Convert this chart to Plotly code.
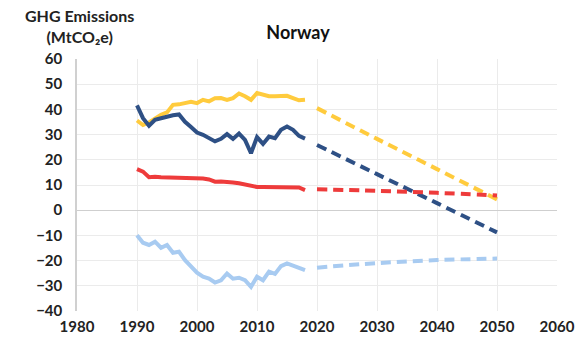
import plotly.graph_objects as go

years_hist = list(range(1990, 2019))
gross = [35.6, 33.8, 34.8, 36.4, 37.9, 38.8, 41.8, 42.0, 42.4, 43.0, 42.5, 43.8, 43.2, 44.4, 44.5,
         43.8, 44.5, 46.3, 45.2, 43.8, 46.5, 45.7, 45.2, 45.2, 45.2, 45.4, 44.5, 43.6, 43.8]
net = [41.6, 36.5, 33.5, 35.9, 36.5, 37.2, 37.7, 38.0, 35.1, 33.0, 30.8, 29.9, 28.4, 27.3, 28.3,
       30.2, 28.3, 30.4, 27.9, 22.6, 29.0, 26.3, 29.2, 28.6, 31.9, 33.2, 31.9, 29.5, 28.4]
other = [16.3, 15.3, 13.1, 13.3, 13.1, 13.0, 13.0, 12.9, 12.9, 13.0, 12.8, 12.6, 12.2, 11.3, 11.4,
         11.3, 11.0, 10.7, 10.2, 9.3, 9.2, 9.2, 9.2, 9.1, 9.1, 9.1, 9.1, 9.0, 8.0]
lulucf = [-9.9, -12.9, -13.8, -12.5, -14.9, -13.8, -16.9, -16.5, -19.8, -22.2, -24.8, -26.4, -27.1,
          -28.7, -27.8, -25.1, -27.2, -26.8, -27.8, -30.4, -26.4, -27.8, -24.4, -25.3, -22.2,
          -21.1, -21.8, -22.9, -23.8]

years_proj = [2020, 2030, 2040, 2050]
gross_proj = [40.5, 28.3, 16.3, 4.3]
net_proj = [25.9, 14.3, 2.8, -8.8]
other_proj = [8.3, 7.7, 6.9, 5.8]
lulucf_proj = [-22.8, -21.0, -19.8, -19.2]

colors = {"gross": "#FFCB3D", "net": "#2E5085", "other": "#EE3B3B", "lulucf": "#A8CBF1"}

fig = go.Figure()
for name, hist, proj in [("gross", gross, gross_proj), ("net", net, net_proj),
                         ("other", other, other_proj), ("lulucf", lulucf, lulucf_proj)]:
    fig.add_trace(go.Scatter(x=years_hist, y=hist, mode="lines",
                             line=dict(color=colors[name], width=4), showlegend=False))
    fig.add_trace(go.Scatter(x=years_proj, y=proj, mode="lines", line_shape="spline",
                             line=dict(color=colors[name], width=4, dash="10px,6px"),
                             showlegend=False))

tickfont = dict(family="Lato", size=15, color="#222222", weight="bold")
fig.update_layout(
    width=587, height=349,
    margin=dict(l=77, r=25, t=59, b=38),
    paper_bgcolor="white", plot_bgcolor="white",
    title=dict(text="Norway", x=298/587, xanchor="center", y=1-33/349, yanchor="middle",
               font=dict(family="Lato", size=18, color="#111111", weight="bold")),
    xaxis=dict(range=[1980, 2060], dtick=10, tick0=1980, showgrid=True, gridcolor="#EBEBEB",
               gridwidth=1, zeroline=False, showline=False, tickfont=tickfont, ticks="",
               ticklabelstandoff=5, mirror=False),
    yaxis=dict(range=[-40, 60], dtick=10, showgrid=True, gridcolor="#EBEBEB", gridwidth=1,
               zeroline=True, zerolinecolor="#CFCFCF", zerolinewidth=1,
               showline=True, linecolor="#D0D0D0", linewidth=1.5,
               tickfont=tickfont, ticks="", ticklabelstandoff=10),
    annotations=[dict(text="GHG Emissions<br>(MtCO₂e)", xref="paper", yref="paper",
                      x=(80-77)/485, y=(311-4)/252, xanchor="center", yanchor="top",
                      showarrow=False, align="center",
                      font=dict(family="Lato", size=16, color="#222222", weight="bold"))],
)
fig.write_html("out.html")
